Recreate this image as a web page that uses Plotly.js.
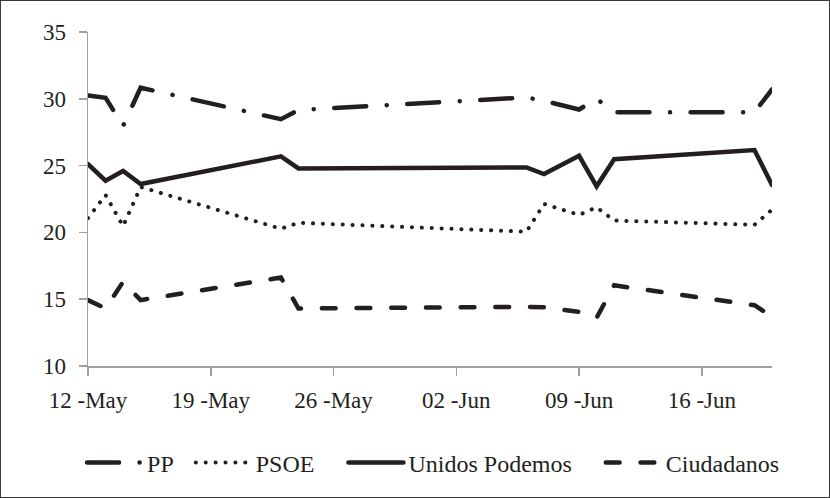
<!DOCTYPE html>
<html>
<head>
<meta charset="utf-8">
<script src="https://cdn.plot.ly/plotly-3.0.1.min.js"></script>
<style>
  html, body { margin: 0; padding: 0; background: #fff; }
  #chart { width: 830px; height: 498px; box-sizing: border-box; border: 1px solid #3a3a3a; }
  .js-line { stroke-linecap: round; }
</style>
</head>
<body>
<div id="chart"></div>
<script>
// Poll dates (2016)
const dates = ['2016-05-12','2016-05-13','2016-05-14','2016-05-15','2016-05-23','2016-05-24',
               '2016-06-06','2016-06-07','2016-06-09','2016-06-10','2016-06-11','2016-06-19','2016-06-20'];
// Series values (%)
const pp        = [30.25, 30.08, 27.97, 30.83, 28.47, 29.16, 30.10, 29.85, 29.20, 30.00, 29.00, 29.00, 30.70];
const psoe      = [21.07, 22.80, 20.47, 23.40, 20.27, 20.72, 20.05, 22.13, 21.31, 21.88, 20.89, 20.57, 21.70];
const podemos   = [25.11, 23.87, 24.60, 23.62, 25.69, 24.79, 24.86, 24.37, 25.73, 23.45, 25.48, 26.16, 23.55];
const ciudadanos= [14.93, 14.31, 16.30, 14.93, 16.62, 14.31, 14.43, 14.40, 14.05, 13.61, 16.04, 14.55, 13.69];
// Series names
const seriesNames = ['PP', 'PSOE', 'Unidos Podemos', 'Ciudadanos'];
// Tick labels
const xTickVals = ['2016-05-12','2016-05-19','2016-05-26','2016-06-02','2016-06-09','2016-06-16'];
const xTickText = ['12 -May','19 -May','26 -May','02 -Jun','09 -Jun','16 -Jun'];
const yTickVals = [10, 15, 20, 25, 30, 35];

const ink = '#231f20';
const fontFamily = 'Liberation Serif, Times New Roman, serif';
const pad = n => '\u00a0'.repeat(n);   // legend spacing only

const traces = [
  {name: seriesNames[0] + pad(2), x: dates, y: pp, mode: 'lines',
   line: {color: ink, width: 4.5, dash: '32px,20.5px,0.1px,20.5px'}},
  {name: seriesNames[1] + pad(4), x: dates, y: psoe, mode: 'lines',
   line: {color: ink, width: 4, dash: '0.1px,9.8px'}},
  {name: seriesNames[2] + pad(4), x: dates, y: podemos, mode: 'lines',
   line: {color: ink, width: 4.5}},
  {name: seriesNames[3], x: dates, y: ciudadanos, mode: 'lines',
   line: {color: ink, width: 4.5, dash: '13.8px,20.9px'}}
];

const axisCommon = {
  showgrid: false, zeroline: false, showline: true,
  linecolor: '#a0a0a0', linewidth: 1.5,
  ticks: 'outside', ticklen: 8, tickwidth: 1.5, tickcolor: '#a0a0a0',
  tickfont: {family: fontFamily, size: 23, color: ink}
};

const layout = {
  width: 828, height: 496,
  margin: {l: 87, r: 57, t: 31, b: 129},
  paper_bgcolor: '#fff', plot_bgcolor: '#fff',
  font: {family: fontFamily, size: 23, color: ink},
  showlegend: true,
  legend: {orientation: 'h', x: -0.0087, xanchor: 'left', y: -0.29, yanchor: 'middle',
           font: {family: fontFamily, size: 24, color: ink}, itemwidth: 55},
  xaxis: Object.assign({}, axisCommon, {
    type: 'date', range: ['2016-05-12', '2016-06-20'],
    tickvals: xTickVals, ticktext: xTickText, ticklabelstandoff: 5
  }),
  yaxis: Object.assign({}, axisCommon, {
    range: [10, 35], tickvals: yTickVals, ticklabelstandoff: 8
  })
};

Plotly.newPlot('chart', traces, layout, {displayModeBar: false, staticPlot: true});
</script>
</body>
</html>
